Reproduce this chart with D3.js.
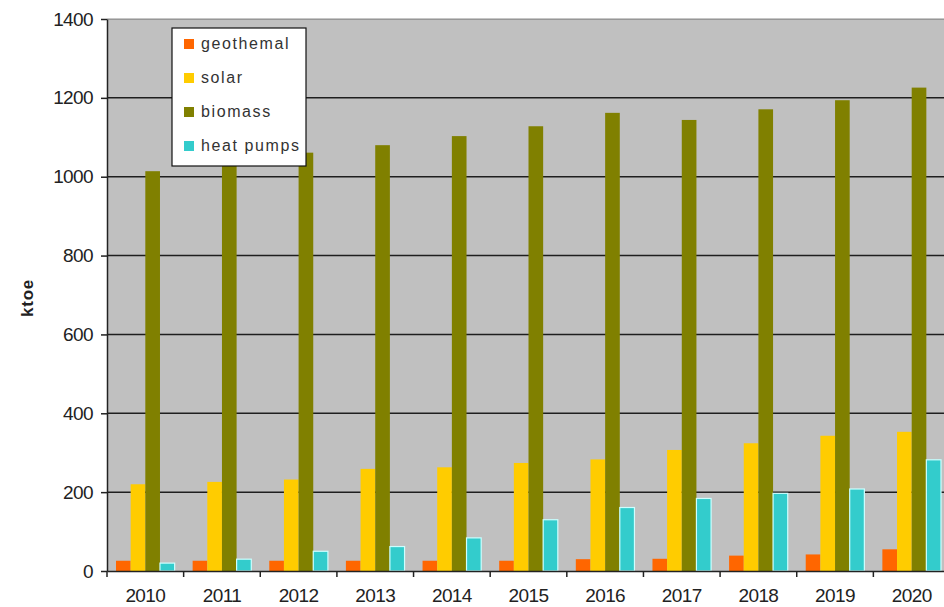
<!DOCTYPE html>
<html>
<head>
<meta charset="utf-8">
<script src="https://d3js.org/d3.v7.min.js"></script>
<style>
  body { margin: 0; background: #fff; }
  svg { font-family: "Liberation Sans", Arial, sans-serif; }
</style>
</head>
<body>
<div id="vis"></div>
<script>
// chart values
var years = ["2010", "2011", "2012", "2013", "2014", "2015", "2016", "2017", "2018", "2019", "2020"];
var seriesNames = ["geothemal", "solar", "biomass", "heat pumps"];
var geothermal = [26, 26, 26, 26, 26, 26, 30, 31, 39, 42, 55];
var solar = [220, 226, 232, 259, 263, 274, 283, 307, 324, 343, 353];
var biomass = [1014, 1040, 1061, 1080, 1103, 1128, 1162, 1144, 1171, 1194, 1226];
var heatPumps = [20, 30, 50, 62, 84, 130, 161, 184, 197, 208, 282];
var yTicks = [0, 200, 400, 600, 800, 1000, 1200, 1400];
var colors = ["#FF6600", "#FFCC00", "#808000", "#33CCCC"];

var values = [geothermal, solar, biomass, heatPumps];

var data = years.map(function(yr, i) {
  return { year: yr, vals: values.map(function(s, k) { return { key: k, value: s[i] }; }) };
});

var width = 944, height = 607;
var plotLeft = 107, plotTop = 19, plotBottom = 571, plotRight = 950;

var svg = d3.select("#vis").append("svg")
    .attr("width", width)
    .attr("height", height);

var x = d3.scaleBand().domain(years).range([plotLeft, plotRight]).padding(0);
var xs = d3.scaleBand().domain(d3.range(4)).range([9, x.bandwidth() - 9]).padding(0);
var y = d3.scaleLinear().domain([0, 1400]).range([plotBottom, plotTop]);

// plot background
svg.append("rect")
    .attr("x", plotLeft).attr("y", plotTop)
    .attr("width", width - plotLeft).attr("height", plotBottom - plotTop)
    .attr("fill", "#C0C0C0");

// gridlines
svg.append("g")
  .selectAll("line")
  .data(yTicks.filter(function(d) { return d > 0; }))
  .enter().append("line")
    .attr("x1", plotLeft).attr("x2", width)
    .attr("y1", function(d) { return y(d); })
    .attr("y2", function(d) { return y(d); })
    .attr("stroke", "#1e1e1e")
    .attr("stroke-width", function(d) { return d === 1400 ? 1 : 1.5; })
    .attr("stroke-opacity", function(d) { return d === 1400 ? 0.5 : 1; });

// bars
var groups = svg.append("g").selectAll("g")
  .data(data)
  .enter().append("g")
    .attr("transform", function(d) { return "translate(" + x(d.year) + ",0)"; });

groups.selectAll("rect")
  .data(function(d) { return d.vals; })
  .enter().append("rect")
    .attr("x", function(d) { return xs(d.key); })
    .attr("width", xs.bandwidth())
    .attr("y", function(d) { return y(d.value); })
    .attr("height", function(d) { return y(0) - y(d.value); })
    .attr("fill", function(d) { return colors[d.key]; })
    .attr("stroke", function(d) { return d.key === 3 ? "#CCFFFF" : "none"; })
    .attr("stroke-width", 1.2);

// Y axis
var yAxis = svg.append("g")
    .attr("transform", "translate(" + plotLeft + ",0)")
    .call(d3.axisLeft(y).tickValues(yTicks).tickSize(6).tickSizeOuter(0).tickPadding(8).tickFormat(d3.format("d")));
yAxis.select(".domain").attr("stroke", "#222").attr("stroke-width", 1.5);
yAxis.selectAll(".tick line").attr("stroke", "#222").attr("stroke-width", 1.5);
yAxis.selectAll("text").attr("font-size", 19).attr("fill", "#222")
    .attr("font-family", "Liberation Sans, Arial, sans-serif").attr("letter-spacing", -0.6);

// X axis
var xAxis = svg.append("g")
    .attr("transform", "translate(0," + plotBottom + ")")
    .call(d3.axisBottom(x).tickSize(0).tickSizeOuter(0).tickPadding(18));
xAxis.select(".domain").attr("stroke", "#222").attr("stroke-width", 1.5);
xAxis.selectAll("text").attr("font-size", 19).attr("fill", "#222")
    .attr("font-family", "Liberation Sans, Arial, sans-serif").attr("letter-spacing", -0.6);
// category separator ticks
xAxis.selectAll(".sep")
  .data(years)
  .enter().append("line")
    .attr("class", "sep")
    .attr("x1", function(d) { return x(d); })
    .attr("x2", function(d) { return x(d); })
    .attr("y1", 0).attr("y2", 6)
    .attr("stroke", "#222").attr("stroke-width", 1.5);

// Y title
svg.append("text")
    .attr("transform", "translate(33,298) rotate(-90)")
    .attr("text-anchor", "middle")
    .attr("font-size", 17)
    .attr("font-weight", "bold")
    .attr("letter-spacing", 0.8)
    .attr("fill", "#222")
    .text("ktoe");

// legend
var legend = svg.append("g").attr("transform", "translate(172,28)");
legend.append("rect")
    .attr("width", 134).attr("height", 138)
    .attr("fill", "#fff")
    .attr("stroke", "#111").attr("stroke-width", 1.2);

var items = legend.selectAll(".item")
  .data(seriesNames)
  .enter().append("g")
    .attr("class", "item")
    .attr("transform", function(d, i) { return "translate(12," + (17 + i * 34) + ")"; });
items.append("rect")
    .attr("x", 0).attr("y", -6)
    .attr("width", 10).attr("height", 10)
    .attr("fill", function(d, i) { return colors[i]; });
items.append("text")
    .attr("x", 17).attr("y", 4)
    .attr("font-size", 16)
    .attr("letter-spacing", 1.6)
    .attr("fill", "#333")
    .text(function(d) { return d; });
</script>
</body>
</html>
